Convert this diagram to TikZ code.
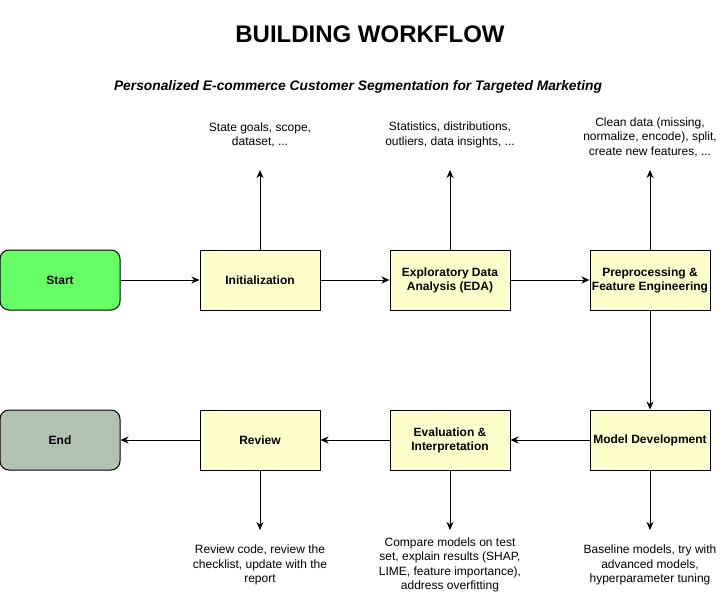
\documentclass[tikz,border=0pt]{standalone}
\usepackage{fontspec}
\setmainfont{Liberation Sans}
\usetikzlibrary{arrows.meta}
\definecolor{startgreen}{HTML}{66FF66}
\definecolor{endgreen}{HTML}{B2C2B1}
\definecolor{stepyellow}{HTML}{FFFFCC}
\tikzset{
  x=1pt, y=-1pt,
  stepbox/.style={draw=black, line width=1pt, fill=stepyellow, minimum width=120pt, minimum height=60pt, inner sep=1pt, align=center, font=\fontsize{12}{14}\selectfont\bfseries},
  termbox/.style={stepbox, rounded corners=9pt},
  note/.style={align=center, font=\fontsize{12}{14.5}\selectfont, inner sep=0pt},
  arr/.style={draw=black, line width=1pt, -{Stealth[length=8pt,width=7pt,inset=2.5pt]}},
}
\begin{document}
\begin{tikzpicture}
\useasboundingbox (0,0) rectangle (726,600);
\node[font=\fontsize{24}{28}\selectfont\bfseries] (title) at (370,34) {BUILDING WORKFLOW};
\node[font=\fontsize{13.8}{16}\selectfont\bfseries\itshape] (sub) at (358,87) {Personalized E-commerce Customer Segmentation for Targeted Marketing};

\node[termbox, fill=startgreen] (start) at (60,280) {Start};
\node[stepbox] (init) at (260,280) {Initialization};
\node[stepbox] (eda) at (450,280) {Exploratory Data\\Analysis (EDA)};
\node[stepbox] (pre) at (650,280) {Preprocessing \&\\Feature Engineering};
\node[termbox, fill=endgreen] (end) at (60,440) {End};
\node[stepbox] (rev) at (260,440) {Review};
\node[stepbox] (eval) at (450,440) {Evaluation \&\\Interpretation};
\node[stepbox] (model) at (650,440) {Model Development};

\node[note] (ninit) at (260,135) {State goals, scope,\\dataset, ...};
\node[note] (neda) at (450,135) {Statistics, distributions,\\outliers, data insights, ...};
\node[note] (npre) at (650,137) {Clean data (missing,\\normalize, encode), split,\\create new features, ...};
\node[note] (nrev) at (260,565) {Review code, review the\\checklist, update with the\\report};
\node[note] (neval) at (450,565) {Compare models on test\\set, explain results (SHAP,\\LIME, feature importance),\\address overfitting};
\node[note] (nmodel) at (650,565) {Baseline models, try with\\advanced models,\\hyperparameter tuning};

\coordinate (uinit) at (260,170);
\coordinate (ueda) at (450,170);
\coordinate (upre) at (650,170);
\coordinate (drev) at (260,530);
\coordinate (deval) at (450,530);
\coordinate (dmodel) at (650,530);

\draw[arr] (start) -- (init);
\draw[arr] (init) -- (eda);
\draw[arr] (eda) -- (pre);
\draw[arr] (pre) -- (model);
\draw[arr] (model) -- (eval);
\draw[arr] (eval) -- (rev);
\draw[arr] (rev) -- (end);
\draw[arr] (init.north) -- (uinit);
\draw[arr] (eda.north) -- (ueda);
\draw[arr] (pre.north) -- (upre);
\draw[arr] (rev.south) -- (drev);
\draw[arr] (eval.south) -- (deval);
\draw[arr] (model.south) -- (dmodel);
\end{tikzpicture}
\end{document}
